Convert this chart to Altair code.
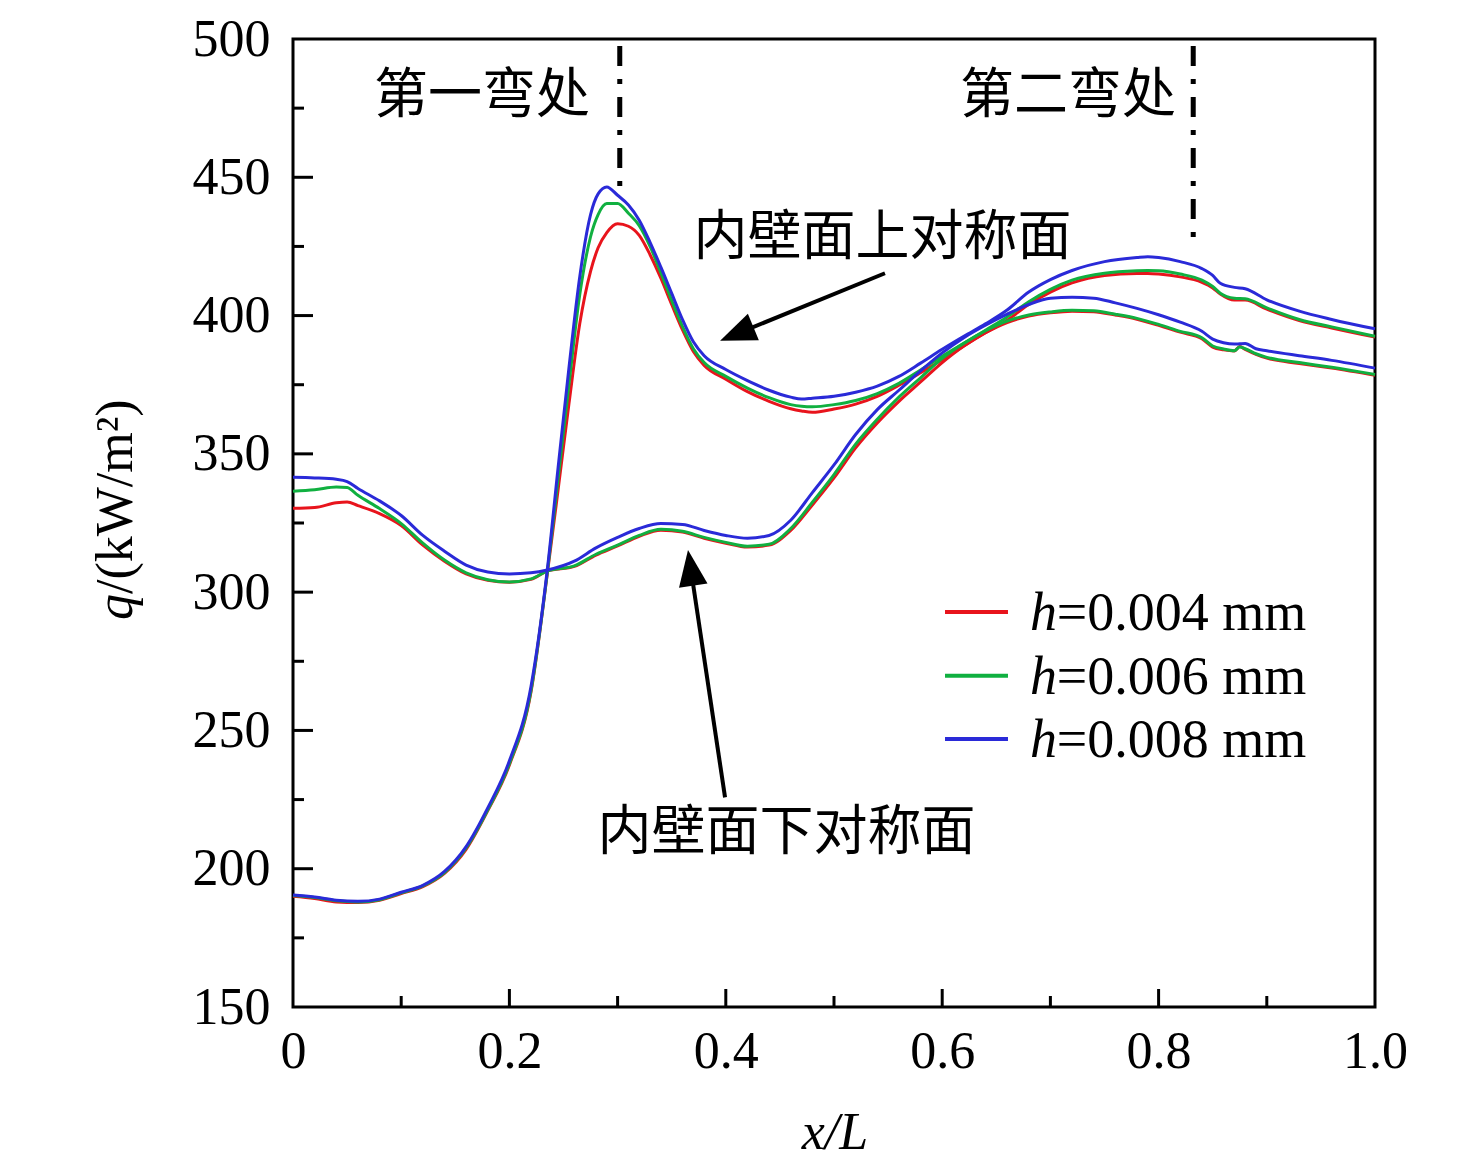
import altair as alt
import pandas as pd

# ---------------- data ----------------
# lower symmetric plane of inner wall (内壁面下对称面)
x_lower = [0, 0.02, 0.04, 0.05, 0.06, 0.08, 0.10, 0.12, 0.14, 0.16, 0.18, 0.20,
           0.22, 0.235, 0.26, 0.28, 0.30, 0.32, 0.34, 0.36, 0.38, 0.40, 0.42,
           0.44, 0.46, 0.48, 0.50, 0.52, 0.54, 0.56, 0.58, 0.60, 0.62, 0.64,
           0.66, 0.68, 0.70, 0.72, 0.74, 0.76, 0.78, 0.80, 0.82, 0.84, 0.85,
           0.86, 0.87, 0.875, 0.88, 0.89, 0.90, 0.93, 0.96, 1.0]
lower_blue = [341.5, 341.3, 340.8, 340.0, 337.5, 333.0, 327.7, 320.5, 314.8, 309.8,
              307.3, 306.6, 307.0, 308.0, 311.2, 316.0, 319.8, 323.0, 324.8, 324.5,
              322.3, 320.5, 319.5, 320.5, 326.0, 336.0, 346.0, 357.0, 366.0, 373.0,
              380.0, 386.5, 392.0, 396.5, 400.5, 404.0, 406.3, 406.6, 406.3, 404.6,
              402.6, 400.3, 397.6, 394.3, 391.5, 390.2, 389.7, 389.8, 389.9, 388.0,
              387.3, 385.5, 383.8, 381.0]
lower_green = [336.5, 337.0, 338.0, 337.8, 335.0, 330.2, 324.8, 317.7, 311.6, 307.0,
               304.5, 303.7, 304.8, 307.6, 309.5, 313.7, 317.0, 320.5, 322.7, 322.0,
               319.8, 318.0, 316.6, 317.3, 323.0, 332.5, 342.5, 353.5, 362.5, 370.5,
               377.5, 384.5, 390.0, 394.5, 398.0, 400.2, 401.3, 401.9, 401.7, 400.5,
               399.0, 396.8, 394.3, 392.0, 389.0, 387.9, 387.3, 388.6, 388.0, 386.2,
               384.9, 383.0, 381.3, 378.7]
lower_red = [330.3, 330.6, 332.3, 332.6, 331.3, 328.4, 324.1, 317.0, 311.2, 306.6,
             304.3, 303.6, 304.6, 307.6, 309.3, 313.4, 316.7, 320.2, 322.4, 321.7,
             319.5, 317.7, 316.3, 317.0, 322.3, 331.5, 341.3, 352.2, 361.2, 369.0,
             376.0, 383.0, 389.0, 393.8, 397.5, 399.8, 401.0, 401.6, 401.4, 400.2,
             398.7, 396.5, 394.0, 391.6, 388.6, 387.6, 387.2, 388.8, 387.8, 386.0,
             384.6, 382.7, 381.0, 378.4]

# upper symmetric plane of inner wall (内壁面上对称面)
x_upper = [0, 0.02, 0.04, 0.06, 0.08, 0.10, 0.12, 0.14, 0.16, 0.18, 0.20, 0.22,
           0.235, 0.245, 0.255, 0.265, 0.275, 0.282, 0.29, 0.30, 0.31, 0.32, 0.33,
           0.34, 0.35, 0.36, 0.37, 0.38, 0.40, 0.42, 0.44, 0.46, 0.47, 0.48, 0.50,
           0.52, 0.54, 0.56, 0.58, 0.60, 0.62, 0.64, 0.66, 0.68, 0.70, 0.72, 0.75,
           0.78, 0.79, 0.80, 0.82, 0.84, 0.85, 0.857, 0.87, 0.88, 0.90, 0.93, 0.96, 1.0]
upper_blue = [190.5, 189.8, 188.6, 188.2, 189.0, 191.5, 194.0, 199.0, 208.0, 222.0,
              239.0, 266.0, 308.0, 345.0, 381.0, 414.0, 436.5, 444.0, 446.5, 443.5,
              440.0, 434.5, 426.5, 417.5, 408.0, 398.5, 390.5, 385.5, 380.5, 376.5,
              373.0, 370.5, 369.8, 370.1, 370.8, 372.3, 374.5, 378.0, 382.8, 387.8,
              392.5, 397.0, 402.0, 408.5, 413.0, 416.3, 419.5, 421.0, 421.3, 421.0,
              419.5, 417.0, 414.5, 411.7, 410.2, 409.7, 405.7, 401.6, 398.6, 395.2]
upper_green = [190.3, 189.6, 188.4, 188.0, 188.8, 191.3, 193.8, 198.6, 207.5, 221.3,
               238.0, 264.5, 307.0, 341.0, 375.0, 407.5, 428.5, 436.5, 440.5, 440.5,
               437.0, 432.5, 425.0, 415.5, 405.5, 396.0, 388.0, 383.0, 378.0, 373.8,
               370.3, 367.8, 367.2, 367.0, 367.8, 369.3, 371.8, 375.5, 380.3, 385.3,
               390.0, 394.7, 399.5, 405.0, 409.5, 412.8, 415.3, 416.2, 416.3, 416.2,
               415.0, 412.8, 410.5, 408.1, 406.3, 406.1, 402.8, 398.6, 395.9, 392.5]
upper_red = [190.0, 189.2, 188.0, 187.8, 188.6, 191.0, 193.5, 198.3, 207.0, 221.0,
             237.5, 264.0, 306.5, 337.0, 368.0, 397.0, 416.0, 424.5, 430.0, 433.2,
             432.3, 429.0, 422.0, 413.5, 404.0, 394.8, 387.0, 382.0, 377.0, 372.5,
             369.0, 366.3, 365.5, 365.0, 366.2, 368.0, 370.8, 374.8, 379.3, 384.0,
             389.0, 393.8, 398.3, 404.0, 408.5, 411.8, 414.5, 415.2, 415.2, 415.0,
             414.0, 412.0, 410.0, 407.8, 405.6, 405.6, 402.3, 398.2, 395.5, 392.2]

series_h = ["0.004", "0.006", "0.008"]
series_colors = ["#e8141c", "#10b040", "#2a2ad8"]

x_tick_labels = [0, 0.2, 0.4, 0.6, 0.8, 1.0]
y_tick_labels = [150, 200, 250, 300, 350, 400, 450, 500]
x_minor = [0.1, 0.3, 0.5, 0.7, 0.9]
x_major = [0.2, 0.4, 0.6, 0.8]
y_major = [200, 250, 300, 350, 400, 450]
y_minor = [175, 225, 275, 325, 375, 425, 475]

bend_x = [0.302, 0.832]
bend_top = [497.5, 497.5]
bend_end = [446.5, 425.0]
bend_labels = ["第一弯处", "第二弯处"]
curve_labels = ["内壁面上对称面", "内壁面下对称面"]

# ---------------- build table ----------------
rows = []
for h, lo, up in zip(series_h, [lower_red, lower_green, lower_blue],
                     [upper_red, upper_green, upper_blue]):
    for i, (x, q) in enumerate(zip(x_lower, lo)):
        rows.append({"h": h, "curve": "lower", "idx": i, "x": x, "q": q})
    for i, (x, q) in enumerate(zip(x_upper, up)):
        rows.append({"h": h, "curve": "upper", "idx": i, "x": x, "q": q})
df = pd.DataFrame(rows)

W, H = 1082, 968
SERIF = "Liberation Serif"
CJK = "Noto Sans CJK SC"
FS = 52

xs = alt.Scale(domain=[0, 1], nice=False, zero=False)
ys = alt.Scale(domain=[150, 500], nice=False, zero=False)

xaxis = alt.Axis(values=x_tick_labels, labelExpr="datum.value == 0 ? '0' : format(datum.value, '.1f')",
                 ticks=False, tickSize=0, domain=False, grid=False, labelFont=SERIF,
                 labelFontSize=FS, labelPadding=19, labelColor="black", title=None,
                 labelFlush=False, labelOverlap=False)
yaxis = alt.Axis(values=y_tick_labels, ticks=False, tickSize=0, domain=False, grid=False,
                 labelFont=SERIF, labelFontSize=FS, labelPadding=23, labelColor="black",
                 title=None, labelFlush=False, labelOverlap=False)

layers = []
for h, c in zip(series_h, series_colors):
    layers.append(
        alt.Chart(df[df["h"] == h]).mark_line(color=c, strokeWidth=3, interpolate="monotone").encode(
            x=alt.X("x:Q", scale=xs, axis=xaxis),
            y=alt.Y("q:Q", scale=ys, axis=yaxis),
            detail="curve:N",
            order="idx:Q",
        )
    )

# inward ticks
layers.append(alt.Chart(pd.DataFrame({"v": y_major})).mark_rule(color="black", strokeWidth=3).encode(
    y=alt.Y("v:Q", scale=ys, axis=yaxis), x=alt.value(0), x2=alt.value(20)))
layers.append(alt.Chart(pd.DataFrame({"v": y_minor})).mark_rule(color="black", strokeWidth=3).encode(
    y=alt.Y("v:Q", scale=ys, axis=yaxis), x=alt.value(0), x2=alt.value(11)))
layers.append(alt.Chart(pd.DataFrame({"v": x_major})).mark_rule(color="black", strokeWidth=3).encode(
    x=alt.X("v:Q", scale=xs, axis=xaxis), y=alt.value(H), y2=alt.value(H - 18)))
layers.append(alt.Chart(pd.DataFrame({"v": x_minor})).mark_rule(color="black", strokeWidth=3).encode(
    x=alt.X("v:Q", scale=xs, axis=xaxis), y=alt.value(H), y2=alt.value(H - 11)))

# bend dash-dot markers
bend_df = pd.DataFrame({"bx": bend_x, "top": bend_top, "end": bend_end})
layers.append(alt.Chart(bend_df).mark_rule(color="black", strokeWidth=5, strokeDash=[20, 13, 5, 13]).encode(
    x=alt.X("bx:Q", scale=xs, axis=xaxis),
    y=alt.Y("top:Q", scale=ys, axis=yaxis),
    y2="end:Q"))

# text annotations (placed in data coordinates)
text_df = pd.DataFrame({
    "t": bend_labels + curve_labels,
    "ax": [0.1747, 0.7163, 0.5448, 0.4561],
    "aq": [478.9, 478.9, 427.8, 212.6],
})
layers.append(alt.Chart(text_df).mark_text(font=CJK, fontSize=54, color="black", align="center",
                                             baseline="middle").encode(
    x=alt.X("ax:Q", scale=xs, axis=xaxis), y=alt.Y("aq:Q", scale=ys, axis=yaxis), text="t:N"))

# arrows (tail -> head centre, data coordinates)
arrow_df = pd.DataFrame({
    "x0": [0.5471, 0.3993], "q0": [415.3, 225.8],
    "x1": [0.4101, 0.3675], "q1": [393.4, 308.8],
    "ang": [247.6, 351.6],
})
layers.append(alt.Chart(arrow_df).mark_rule(color="black", strokeWidth=4).encode(
    x=alt.X("x0:Q", scale=xs, axis=xaxis), y=alt.Y("q0:Q", scale=ys, axis=yaxis),
    x2="x1:Q", y2="q1:Q"))
layers.append(alt.Chart(arrow_df).mark_point(shape="M0,-1L-0.8,1L0.8,1Z", filled=True, size=1296,
                                               color="black", opacity=1).encode(
    x=alt.X("x1:Q", scale=xs, axis=xaxis), y=alt.Y("q1:Q", scale=ys, axis=yaxis),
    angle=alt.Angle("ang:Q", scale=None)))

# manual legend (data coordinates)
leg_df = pd.DataFrame({
    "label": ["=" + h + " mm" for h in series_h],
    "color": series_colors,
    "lq": [292.8, 269.8, 246.9],
    "tq": [286.4, 263.3, 240.5],
})
leg_df["lx0"] = 0.6026
leg_df["lx1"] = 0.6608
leg_df["hx"] = 0.6811
leg_df["tx"] = 0.7058
leg_df["hh"] = "h"
layers.append(alt.Chart(leg_df).mark_rule(strokeWidth=4).encode(
    x=alt.X("lx0:Q", scale=xs, axis=xaxis), x2="lx1:Q", y=alt.Y("lq:Q", scale=ys, axis=yaxis),
    color=alt.Color("color:N", scale=None)))
layers.append(alt.Chart(leg_df).mark_text(font=SERIF, fontSize=54, fontStyle="italic", align="left",
                                            baseline="alphabetic", color="black").encode(
    x=alt.X("hx:Q", scale=xs, axis=xaxis), y=alt.Y("tq:Q", scale=ys, axis=yaxis), text="hh:N"))
layers.append(alt.Chart(leg_df).mark_text(font=SERIF, fontSize=54, align="left",
                                            baseline="alphabetic", color="black").encode(
    x=alt.X("tx:Q", scale=xs, axis=xaxis), y=alt.Y("tq:Q", scale=ys, axis=yaxis), text="label:N"))

# axis titles (pixel layout relative to plot area)
title_df = pd.DataFrame({"t": ["q", "/(kW/m²)"], "px": [-161, -161], "py": [581, 555]})
layers.append(alt.Chart(title_df.iloc[[0]]).mark_text(font=SERIF, fontSize=FS, fontStyle="italic",
                                                        angle=270, align="left", baseline="alphabetic",
                                                        color="black").encode(
    x=alt.X("px:Q", scale=None), y=alt.Y("py:Q", scale=None), text="t:N"))
layers.append(alt.Chart(title_df.iloc[[1]]).mark_text(font=SERIF, fontSize=FS, angle=270, align="left",
                                                        baseline="alphabetic", color="black").encode(
    x=alt.X("px:Q", scale=None), y=alt.Y("py:Q", scale=None), text="t:N"))
layers.append(alt.Chart(pd.DataFrame({"t": ["x/L"], "px": [542], "py": [1110]})).mark_text(
    font=SERIF, fontSize=FS, fontStyle="italic", align="center", baseline="alphabetic",
    color="black").encode(x=alt.X("px:Q", scale=None), y=alt.Y("py:Q", scale=None), text="t:N"))

chart = alt.layer(*layers).properties(
    width=W, height=H,
    padding={"left": 285, "top": 31, "right": 90, "bottom": 160},
    autosize=alt.AutoSizeParams(type="none"),
    background="white",
).configure_view(stroke="black", strokeWidth=3)

chart.save("out.html", embed_options={"renderer": "svg", "actions": False})
